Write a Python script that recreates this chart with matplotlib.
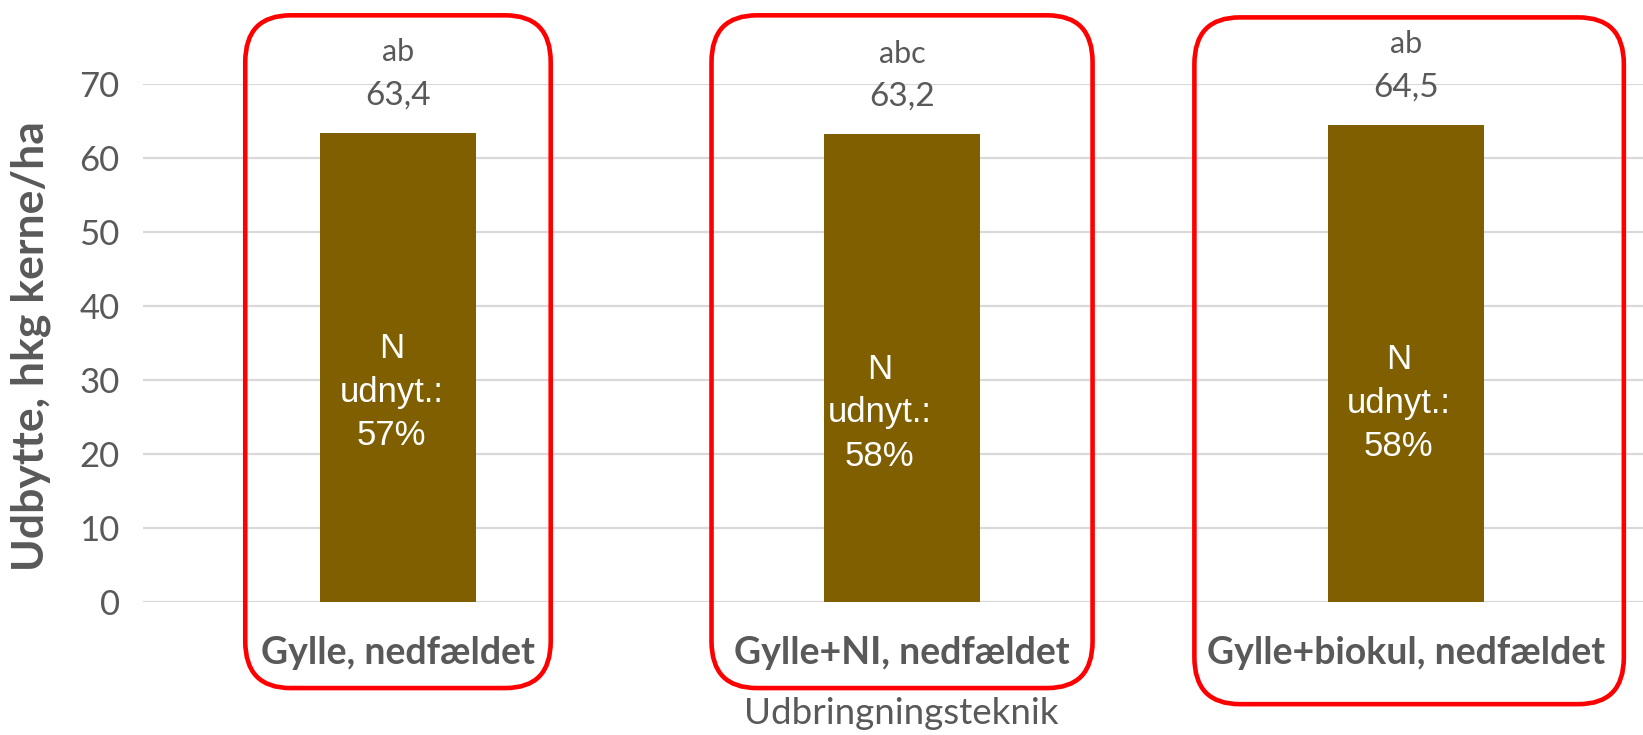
import matplotlib.pyplot as plt
from matplotlib.patches import FancyBboxPatch
import matplotlib.transforms as mtransforms

# data
categories = ["Gylle, nedfældet", "Gylle+NI, nedfældet", "Gylle+biokul, nedfældet"]
yields = [63.4, 63.2, 64.5]
value_labels = ["63,4", "63,2", "64,5"]
letters = ["ab", "abc", "ab"]
n_util = ["57%", "58%", "58%"]
n_text_y = [28.4, 25.6, 26.9]       # where the white text sits inside the bar
n_text_dx = [-0.013, -0.045, -0.015]

# red frames: (centre shift, half width in category units, top, bottom in axes fraction)
frames = [(0.0, 0.303, 1.132, -0.165), (0.0, 0.378, 1.132, -0.165), (0.006, 0.426, 1.128, -0.196)]

gray = "#595959"
bar_color = "#7f5f00"
plt.rcParams["font.family"] = ["Lato", "DejaVu Sans"]

fig = plt.figure(figsize=(16.43, 7.35), dpi=100)
ax = fig.add_axes([0.0873, 0.1803, 0.9127, 0.7057])

x = list(range(len(categories)))
bars = ax.bar(x, yields, width=0.31, color=bar_color, zorder=3)

ax.set_xlim(-0.505, 2.47)
ax.set_ylim(0, 70)
ax.set_yticks(range(0, 71, 10))
ax.yaxis.grid(True, color="#d9d9d9", linewidth=1.6, zorder=0)
ax.set_axisbelow(True)
for s in ax.spines.values():
    s.set_visible(False)
ax.tick_params(axis="y", length=0, pad=17, labelsize=25, labelcolor=gray)
ax.tick_params(axis="x", length=0, pad=24, labelsize=27, labelcolor=gray)
ax.set_xticks(x)
ax.set_xticklabels(categories, fontweight="bold")

fig.text(901 / 1643, 1 - 714 / 735, "Udbringningsteknik", fontsize=26.5, color=gray,
         ha="center", va="center")
fig.text(31 / 1643, 0.5295, "Udbytte, hkg kerne/ha", rotation=90, fontsize=32,
         fontweight="bold", color=gray, ha="center", va="center")

for i, b in enumerate(bars):
    top = b.get_height()
    ax.annotate(value_labels[i], (i, top), xytext=(0, 27), textcoords="offset points",
                ha="center", va="center", fontsize=24, color=gray, annotation_clip=False)
    ax.annotate(letters[i], (i, top), xytext=(0, 58), textcoords="offset points",
                ha="center", va="center", fontsize=22, color=gray, annotation_clip=False)
    ax.text(i + n_text_dx[i], n_text_y[i], "N\nudnyt.:\n" + n_util[i], ha="center", va="center",
            fontsize=25, color="white", family="Liberation Sans", linespacing=1.4, zorder=4)

trans = mtransforms.blended_transform_factory(ax.transData, ax.transAxes)
for i, (dx, hw, ytop, ybot) in enumerate(frames):
    box = FancyBboxPatch((i + dx - hw, ybot), 2 * hw, ytop - ybot,
                         boxstyle="round,pad=0,rounding_size=0.09",
                         mutation_aspect=1.0, transform=trans, fill=False,
                         edgecolor="#ff0000", linewidth=3.3, clip_on=False, zorder=5)
    ax.add_patch(box)

fig.savefig("out.png", dpi=100)
